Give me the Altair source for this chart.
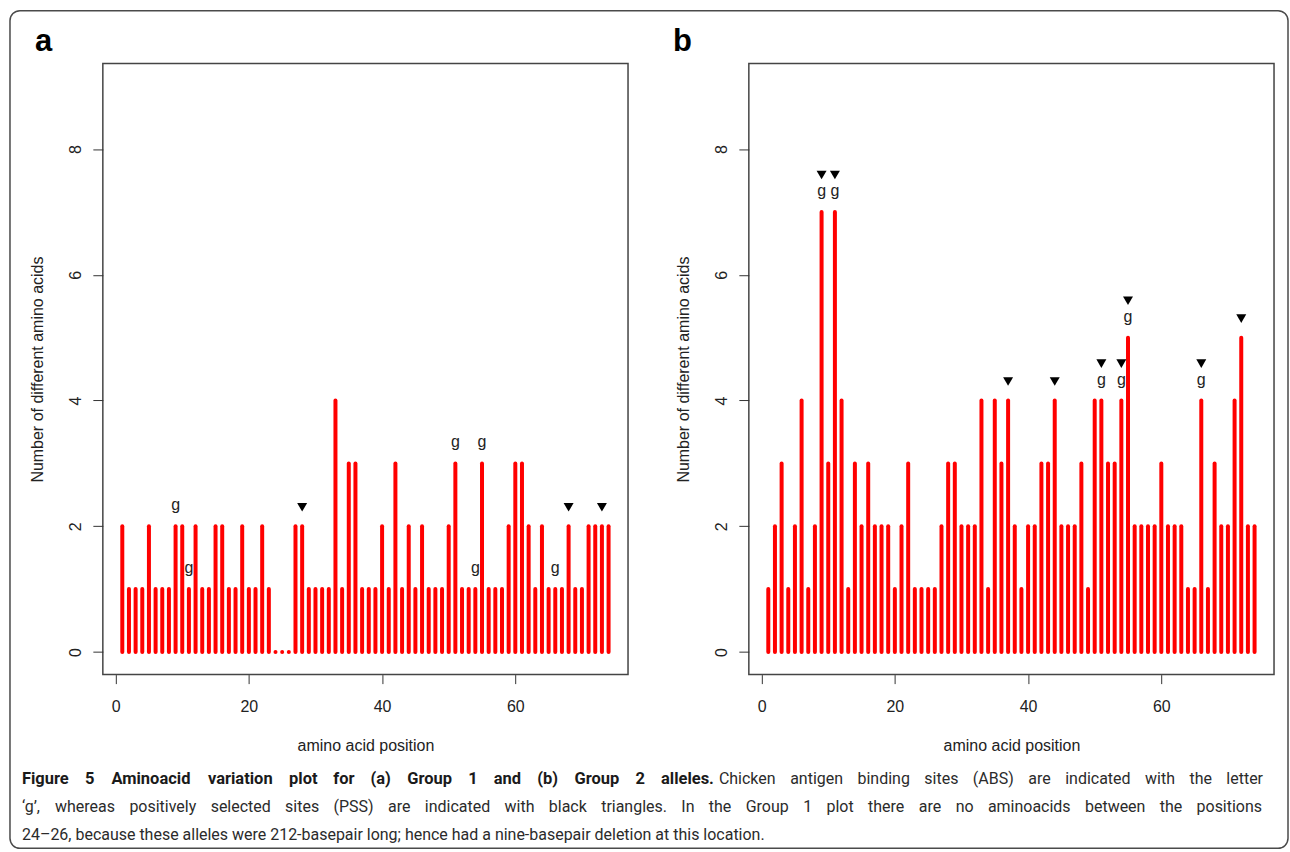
import altair as alt
import pandas as pd

# ---------------- data ----------------
positions = list(range(1, 75))

group1_counts = [2, 1, 1, 1, 2, 1, 1, 1, 2, 2,
                 1, 2, 1, 1, 2, 2, 1, 1, 2, 1,
                 1, 2, 1, 0, 0, 0, 2, 2, 1, 1,
                 1, 1, 4, 1, 3, 3, 1, 1, 1, 2,
                 1, 3, 1, 2, 1, 2, 1, 1, 1, 2,
                 3, 1, 1, 1, 3, 1, 1, 1, 2, 3,
                 3, 2, 1, 2, 1, 1, 1, 2, 1, 1,
                 2, 2, 2, 2]

group2_counts = [1, 2, 3, 1, 2, 4, 1, 2, 7, 3,
                 7, 4, 1, 3, 2, 3, 2, 2, 2, 1,
                 2, 3, 1, 1, 1, 1, 2, 3, 3, 2,
                 2, 2, 4, 1, 4, 3, 4, 2, 1, 2,
                 2, 3, 3, 4, 2, 2, 2, 3, 1, 4,
                 4, 3, 3, 4, 5, 2, 2, 2, 2, 3,
                 2, 2, 2, 1, 1, 4, 1, 3, 2, 2,
                 4, 5, 2, 2]

abs_sites = [9, 11, 51, 54, 55, 66]
group1_pss = [28, 68, 73]
group2_pss = [9, 11, 37, 44, 51, 54, 55, 66, 72]

x_ticks = [0, 20, 40, 60]
y_ticks = [0, 2, 4, 6, 8]

caption_bold = "Figure 5 Aminoacid variation plot for (a) Group 1 and (b) Group 2 alleles."
caption_line1 = "Chicken antigen binding sites (ABS) are indicated with the letter"
caption_line2 = ("\u2018g\u2019, whereas positively selected sites (PSS) are indicated with black triangles. "
                 "In the Group 1 plot there are no aminoacids between the positions")
caption_line3 = ("24\u201326, because these alleles were 212-basepair long; hence had a nine-basepair "
                 "deletion at this location.")

# ---------------- style ----------------
W, H = 526, 612
AX_FONT = "Liberation Sans"
CAP_FONT = "Roboto"
CAP_SIZE = 16
CAP_BOLD_SIZE = 16.5
INK = "#222222"
one = pd.DataFrame({"k": [0]})

# approximate Roboto advance widths (em) used only to justify the caption lines
CW = {" ": 0.248, "(": 0.342, ")": 0.348, ",": 0.196, "-": 0.276, ".": 0.264, ";": 0.212,
      "\u2018": 0.204, "\u2019": 0.204, "\u2013": 0.570,
      "A": 0.652, "B": 0.622, "C": 0.651, "D": 0.656, "E": 0.568, "F": 0.553, "G": 0.681,
      "H": 0.713, "I": 0.272, "P": 0.631, "S": 0.593,
      "a": 0.544, "b": 0.561, "c": 0.523, "d": 0.564, "e": 0.530, "f": 0.347, "g": 0.561,
      "h": 0.551, "i": 0.243, "j": 0.239, "k": 0.507, "l": 0.243, "m": 0.876, "n": 0.552,
      "o": 0.570, "p": 0.561, "q": 0.568, "r": 0.338, "s": 0.516, "t": 0.327, "u": 0.551,
      "v": 0.484, "w": 0.751, "x": 0.496, "y": 0.473, "z": 0.496}


def est_width(word, bold):
    if bold:
        return sum(CW.get(ch, 0.562) for ch in word) * CAP_BOLD_SIZE * 1.045
    return sum(CW.get(ch, 0.562) for ch in word) * CAP_SIZE


def justify(words, x0, x1, y, bold):
    """Spread words between x0 and x1 (panel-a pixel coords)."""
    widths = [est_width(t, bold) for t in words]
    gap = (x1 - x0 - sum(widths)) / (len(words) - 1)
    rows, cur = [], x0
    for i, (t, w) in enumerate(zip(words, widths)):
        if i == 0:
            px, al = x0, "left"
        elif i == len(words) - 1:
            px, al = x1, "right"
        else:
            px, al = cur + w / 2, "center"
        rows.append({"word": t, "px": px, "py": y, "align": al, "bold": bold})
        cur += w + gap
    return rows


rows = []
rows += justify(caption_bold.split(), -81, 612, 717, True)
rows += justify(caption_line1.split(), 617, 1162, 717, False)
rows += justify(caption_line2.split(), -81, 1161, 745, False)
rows.append({"word": caption_line3, "px": -81, "py": 773, "align": "left", "bold": False})
cap_df = pd.DataFrame(rows)


def caption_layer(align, bold):
    sub = cap_df[(cap_df["align"] == align) & (cap_df["bold"] == bold)]
    return alt.Chart(sub).mark_text(
        font=CAP_FONT, fontSize=CAP_BOLD_SIZE if bold else CAP_SIZE,
        fontWeight="bold" if bold else "normal",
        color="#1a1a1a" if bold else "#2b2b2b", align=align, baseline="middle").encode(
        x=alt.X("px:Q", scale=None, axis=None), y=alt.Y("py:Q", scale=None, axis=None),
        text="word:N")


def panel(counts, pss, letter, with_frame):
    df = pd.DataFrame({"pos": positions, "n": counts})
    x = alt.X("pos:Q",
              scale=alt.Scale(domain=[-1.92, 76.92], nice=False, zero=False),
              axis=alt.Axis(values=x_ticks, format="d", title="amino acid position", grid=False,
                            domain=False, tickSize=9, tickColor="#333333", tickWidth=1,
                            labelFont=AX_FONT, labelFontSize=16, labelColor=INK,
                            labelBaseline="middle", labelPadding=23, labelFlush=False,
                            titleFont=AX_FONT, titleFontSize=16, titleFontWeight="normal",
                            titleColor=INK, titleX=263, titleY=71, titleAlign="center",
                            titleBaseline="middle"))
    y = alt.Y("n:Q",
              scale=alt.Scale(domain=[-0.36, 9.36], nice=False, zero=False),
              axis=alt.Axis(values=y_ticks, format="d", title="Number of different amino acids",
                            grid=False, domain=False, tickSize=10, tickColor="#333333",
                            tickWidth=1,
                            labelFont=AX_FONT, labelFontSize=16, labelColor=INK,
                            labelAngle=270, labelAlign="center", labelBaseline="middle",
                            labelPadding=17, labelFlush=False,
                            titleFont=AX_FONT, titleFontSize=16, titleFontWeight="normal",
                            titleColor=INK, titleX=-65, titleY=306, titleAngle=270,
                            titleAlign="center", titleBaseline="middle"))

    bars = alt.Chart(df).mark_rule(color="#ff0000", strokeWidth=4, strokeCap="round").encode(
        x=x, y=y, y2=alt.datum(0))

    gdf = df[df["pos"].isin(abs_sites)]
    g_text = alt.Chart(gdf).mark_text(text="g", font=AX_FONT, fontSize=16, color=INK,
                                      baseline="middle", dy=-21).encode(x="pos:Q", y="n:Q")

    tri_g = df[df["pos"].isin(pss) & df["pos"].isin(abs_sites)]
    tri_n = df[df["pos"].isin(pss) & ~df["pos"].isin(abs_sites)]
    tri1 = alt.Chart(tri_g).mark_point(shape="triangle-down", filled=True, color="#000000",
                                       size=100, opacity=1, yOffset=-37).encode(x="pos:Q", y="n:Q")
    tri2 = alt.Chart(tri_n).mark_point(shape="triangle-down", filled=True, color="#000000",
                                       size=100, opacity=1, yOffset=-19).encode(x="pos:Q", y="n:Q")

    lab = alt.Chart(one).mark_text(text=letter, font=AX_FONT, fontSize=31, fontWeight="bold",
                                   color="#000000", align="left", baseline="alphabetic").encode(
        x=alt.value(-68 if letter == "a" else -76), y=alt.value(-13))

    layers = [bars, g_text, tri1, tri2, lab]
    if with_frame:
        frame = alt.Chart(one).mark_rect(fillOpacity=0, stroke="#4a4a4a", strokeWidth=1.5,
                                         cornerRadius=10).encode(
            x=alt.value(-93), x2=alt.value(1187), y=alt.value(-53), y2=alt.value(786))
        layers = [frame] + layers + [
            caption_layer("left", True), caption_layer("center", True),
            caption_layer("right", True),
            caption_layer("left", False), caption_layer("center", False),
            caption_layer("right", False)]

    return alt.layer(*layers).properties(width=W, height=H)


panel_a = panel(group1_counts, group1_pss, "a", True)
panel_b = panel(group2_counts, group2_pss, "b", False)

chart = alt.hconcat(panel_a, panel_b, spacing=121, bounds="flush").properties(
    padding={"left": 8, "top": 8, "right": 0, "bottom": 2},
    background="white",
).configure_view(stroke="#444444", strokeWidth=1.5)

chart.save("out.html", embed_options={"renderer": "svg", "actions": False})
